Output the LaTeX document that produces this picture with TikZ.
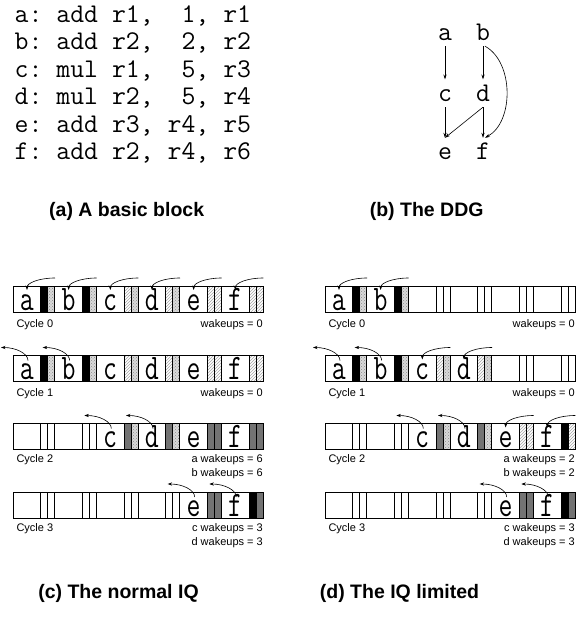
\documentclass[tikz,border=0pt]{standalone}
\usepackage{fontspec}
\setmainfont{Liberation Sans}
\usetikzlibrary{arrows.meta,patterns}
\newcommand{\monof}{\ttfamily\frenchspacing}
\newcommand{\iqslot}[7]{% name, X, Y, index, letter, tag1, tag2
  \pgfmathsetmacro{\iqsx}{#2+#4*41.667}%
  \fill[#6] (\iqsx+27.667,#3) rectangle ++(7,26);
  \fill[#7] (\iqsx+34.667,#3) rectangle ++(7,26);
  \draw[cellline] (\iqsx,#3) rectangle ++(27.667,26);
  \draw[cellline] (\iqsx+27.667,#3) rectangle ++(7,26);
  \draw[cellline] (\iqsx+34.667,#3) rectangle ++(7,26);
  \node[letter] (#1) at (\iqsx+13.8,#3+24.3) {\scalebox{1}[1.33]{#5}};
}
\newcommand{\iqempty}[3]{% X, Y, index
  \pgfmathsetmacro{\iqsx}{#1+#3*41.667}%
  \draw[cellline] (\iqsx,#2) rectangle ++(27.667,26);
  \draw[cellline] (\iqsx+27.667,#2) rectangle ++(7,26);
  \draw[cellline] (\iqsx+34.667,#2) rectangle ++(7,26);
}
\newcommand{\inarr}[3]{% X, Y, index
  \pgfmathsetmacro{\iqsx}{#1+#3*41.667}%
  \draw[iqarr] (\iqsx+42,#2-8) .. controls (\iqsx+26,#2-8) and (\iqsx+14,#2-3) .. (\iqsx+14,#2+4);
}
\newcommand{\outarr}[3]{% X, Y, index
  \pgfmathsetmacro{\iqsx}{#1+#3*41.667}%
  \draw[iqarr] (\iqsx+15,#2+5) .. controls (\iqsx+15,#2-2) and (\iqsx+3,#2-8) .. (\iqsx-12,#2-8);
}
\begin{document}
\begin{tikzpicture}[x=1pt,y=-1pt,
  cellline/.style={draw=black, line width=0.6pt},
  blk/.style={fill=black},
  imm/.style={fill=gray!30, postaction={pattern=crosshatch dots, pattern color=gray!90}},
  wait/.style={fill=white, postaction={pattern=north east lines, pattern color=gray!70}},
  cmp/.style={fill=black!55},
  empt/.style={fill=white},
  letter/.style={anchor=base, inner sep=0pt, font=\monof\fontsize{27}{32}\selectfont},
  iqarr/.style={line width=0.6pt, -{Stealth[length=4.5pt,width=3.2pt]}},
  lbl/.style={inner sep=0pt, font=\fontsize{11}{13}\selectfont},
  captxt/.style={inner sep=0pt, font=\bfseries\fontsize{19.5}{22}\selectfont},
  code/.style={anchor=base west, inner sep=0pt, font=\monof\fontsize{27}{32}\selectfont},
  ddg/.style={anchor=base, inner sep=0pt, text height=22pt, text depth=5.3pt, font=\monof\fontsize{27}{32}\selectfont},
  ddgarr/.style={line width=0.6pt, -{Stealth[length=5pt,width=3.2pt]}}
]
\useasboundingbox (0,0) rectangle (579,617);

% (a) code
\node[code] (l1) at (14.5,22.5) {a: add r1,\ \ 1, r1};
\node[code] (l2) at (14.5,50) {b: add r2,\ \ 2, r2};
\node[code] (l3) at (14.5,77.5) {c: mul r1,\ \ 5, r3};
\node[code] (l4) at (14.5,105) {d: mul r2,\ \ 5, r4};
\node[code] (l5) at (14.5,132.5) {e: add r3, r4, r5};
\node[code] (l6) at (14.5,160) {f: add r2, r4, r6};
\node[captxt] (capa) at (126.7,211) {(a) A basic block};

% (b) DDG
\node[ddg] (a) at (445,40.7) {a};
\node[ddg] (b) at (483,40.7) {b};
\node[ddg] (c) at (445,101.7) {c};
\node[ddg] (d) at (483,101.7) {d};
\node[ddg] (e) at (445,160) {e};
\node[ddg] (f) at (483,160) {f};
\draw[ddgarr] (a.south) -- (c.north);
\draw[ddgarr] (b.south) -- (d.north);
\draw[ddgarr] (c.south) -- (e.north);
\draw[ddgarr] (d.south) -- (e.north);
\draw[ddgarr] (d.south) -- (f.north);
\draw[ddgarr] ([xshift=2pt]b.south) .. controls (514,62) and (514,122) .. ([xshift=2pt]f.north);
\node[captxt] (capb) at (426.7,211) {(b) The DDG};

% (c) normal IQ
% cycle 0
\iqslot{c0a}{13}{286}{0}{a}{blk}{imm}
\iqslot{c0b}{13}{286}{1}{b}{blk}{imm}
\iqslot{c0c}{13}{286}{2}{c}{wait}{imm}
\iqslot{c0d}{13}{286}{3}{d}{wait}{imm}
\iqslot{c0e}{13}{286}{4}{e}{wait}{wait}
\iqslot{c0f}{13}{286}{5}{f}{wait}{wait}
\inarr{13}{286}{0}\inarr{13}{286}{1}\inarr{13}{286}{2}
\inarr{13}{286}{3}\inarr{13}{286}{4}\inarr{13}{286}{5}
\node[lbl,anchor=west] (cc0) at (16.3,325) {Cycle 0};
\node[lbl,anchor=east] (cw0) at (263,325) {wakeups = 0};
% cycle 1
\iqslot{c1a}{13}{355.5}{0}{a}{blk}{imm}
\iqslot{c1b}{13}{355.5}{1}{b}{blk}{imm}
\iqslot{c1c}{13}{355.5}{2}{c}{wait}{imm}
\iqslot{c1d}{13}{355.5}{3}{d}{wait}{imm}
\iqslot{c1e}{13}{355.5}{4}{e}{wait}{wait}
\iqslot{c1f}{13}{355.5}{5}{f}{wait}{wait}
\outarr{13}{355.5}{0}\outarr{13}{355.5}{1}
\node[lbl,anchor=west] (cc1) at (16.3,394) {Cycle 1};
\node[lbl,anchor=east] (cw1) at (263,394) {wakeups = 0};
% cycle 2
\iqempty{13}{423.5}{0}
\iqempty{13}{423.5}{1}
\iqslot{c2c}{13}{423.5}{2}{c}{cmp}{imm}
\iqslot{c2d}{13}{423.5}{3}{d}{cmp}{imm}
\iqslot{c2e}{13}{423.5}{4}{e}{cmp}{cmp}
\iqslot{c2f}{13}{423.5}{5}{f}{cmp}{cmp}
\outarr{13}{423.5}{2}\outarr{13}{423.5}{3}
\node[lbl,anchor=west] (cc2) at (16.3,459.5) {Cycle 2};
\node[lbl,anchor=east] (cw2a) at (263,459.5) {a wakeups = 6};
\node[lbl,anchor=east] (cw2b) at (263,473.5) {b wakeups = 6};
% cycle 3
\iqempty{13}{492}{0}
\iqempty{13}{492}{1}
\iqempty{13}{492}{2}
\iqempty{13}{492}{3}
\iqslot{c3e}{13}{492}{4}{e}{cmp}{cmp}
\iqslot{c3f}{13}{492}{5}{f}{blk}{cmp}
\outarr{13}{492}{4}\outarr{13}{492}{5}
\node[lbl,anchor=west] (cc3) at (16.3,528.5) {Cycle 3};
\node[lbl,anchor=east] (cw3a) at (263,528.5) {c wakeups = 3};
\node[lbl,anchor=east] (cw3b) at (263,542.5) {d wakeups = 3};
\node[captxt] (capc) at (118.5,593) {(c) The normal IQ};

% (d) IQ limited
% cycle 0
\iqslot{d0a}{325}{286}{0}{a}{blk}{imm}
\iqslot{d0b}{325}{286}{1}{b}{blk}{imm}
\iqempty{325}{286}{2}
\iqempty{325}{286}{3}
\iqempty{325}{286}{4}
\iqempty{325}{286}{5}
\inarr{325}{286}{0}\inarr{325}{286}{1}
\node[lbl,anchor=west] (dc0) at (328.3,325) {Cycle 0};
\node[lbl,anchor=east] (dw0) at (575,325) {wakeups = 0};
% cycle 1
\iqslot{d1a}{325}{355.5}{0}{a}{blk}{imm}
\iqslot{d1b}{325}{355.5}{1}{b}{blk}{imm}
\iqslot{d1c}{325}{355.5}{2}{c}{wait}{imm}
\iqslot{d1d}{325}{355.5}{3}{d}{wait}{imm}
\iqempty{325}{355.5}{4}
\iqempty{325}{355.5}{5}
\outarr{325}{355.5}{0}\outarr{325}{355.5}{1}
\inarr{325}{355.5}{2}\inarr{325}{355.5}{3}
\node[lbl,anchor=west] (dc1) at (328.3,394) {Cycle 1};
\node[lbl,anchor=east] (dw1) at (575,394) {wakeups = 0};
% cycle 2
\iqempty{325}{423.5}{0}
\iqempty{325}{423.5}{1}
\iqslot{d2c}{325}{423.5}{2}{c}{cmp}{imm}
\iqslot{d2d}{325}{423.5}{3}{d}{cmp}{imm}
\iqslot{d2e}{325}{423.5}{4}{e}{wait}{wait}
\iqslot{d2f}{325}{423.5}{5}{f}{blk}{wait}
\outarr{325}{423.5}{2}\outarr{325}{423.5}{3}
\inarr{325}{423.5}{4}\inarr{325}{423.5}{5}
\node[lbl,anchor=west] (dc2) at (328.3,459.5) {Cycle 2};
\node[lbl,anchor=east] (dw2a) at (575,459.5) {a wakeups = 2};
\node[lbl,anchor=east] (dw2b) at (575,473.5) {b wakeups = 2};
% cycle 3
\iqempty{325}{492}{0}
\iqempty{325}{492}{1}
\iqempty{325}{492}{2}
\iqempty{325}{492}{3}
\iqslot{d3e}{325}{492}{4}{e}{cmp}{cmp}
\iqslot{d3f}{325}{492}{5}{f}{blk}{cmp}
\outarr{325}{492}{4}\outarr{325}{492}{5}
\node[lbl,anchor=west] (dc3) at (328.3,528.5) {Cycle 3};
\node[lbl,anchor=east] (dw3a) at (575,528.5) {c wakeups = 3};
\node[lbl,anchor=east] (dw3b) at (575,542.5) {d wakeups = 3};
\node[captxt] (capd) at (399.5,593) {(d) The IQ limited};
\end{tikzpicture}
\end{document}
